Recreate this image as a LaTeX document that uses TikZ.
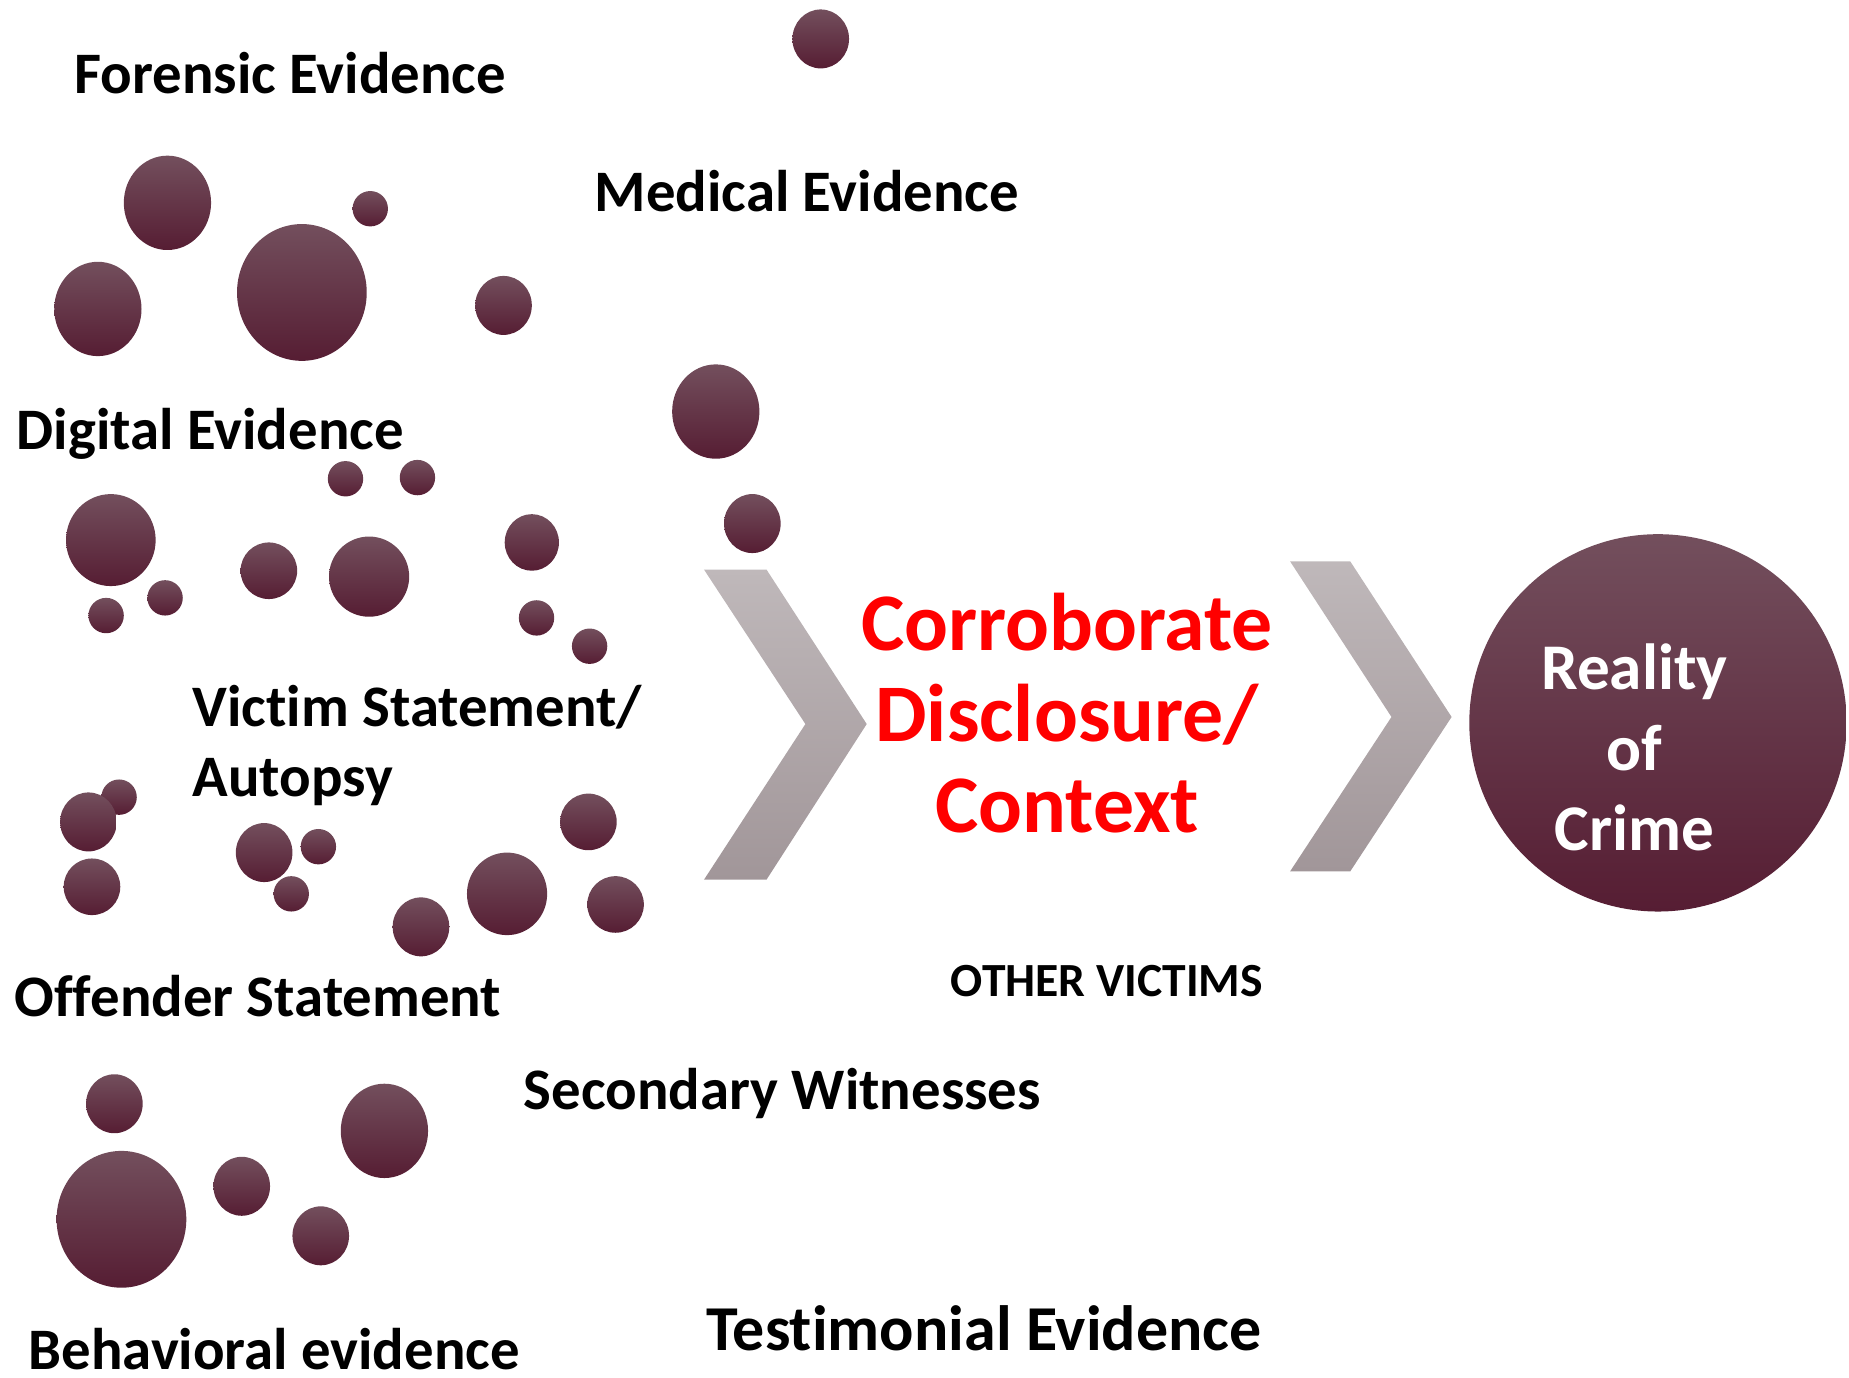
\documentclass[tikz,border=0pt]{standalone}
\usepackage{fontspec}
\setmainfont{Carlito}[Ligatures={NoCommon,NoRequired,NoContextual},Contextuals=NoAlternate]
\definecolor{bubtop}{RGB}{115,79,93}
\definecolor{bubmid}{RGB}{94,35,57}
\definecolor{bubbot}{RGB}{86,29,51}
\definecolor{chevtop}{RGB}{191,184,186}
\definecolor{chevbot}{RGB}{161,150,153}
\begin{document}
\begin{tikzpicture}[x=0.5896pt,y=-0.5896pt,
  bubble/.style={top color=bubtop,middle color=bubmid,bottom color=bubbot},
  chevron/.style={top color=chevtop,bottom color=chevbot},
  lab/.style={anchor=base west,inner sep=0pt,font=\fontsize{29.4}{34.8}\selectfont\bfseries},
  redlab/.style={anchor=base,inner sep=0pt,text=red,font=\fontsize{40.9}{45.4}\selectfont\bfseries},
  whitelab/.style={anchor=base,inner sep=0pt,text=white,font=\fontsize{32.6}{40}\selectfont\bfseries}]
\useasboundingbox (0,0) rectangle (1568,1168);

% scattered evidence bubbles: x, y, horizontal radius, vertical radius
\foreach \cx/\cy/\rx/\ry in {
  696/33/24/25, 142/172/37/40, 314/177/15/15, 83/262/37/40, 256/248/55/58,
  427/259/24/25, 607/349/37/40, 293/406/15/15, 354/405/15/15, 94/458/38/39,
  638/444/24/25, 451/460/23/24, 228/484/24/24, 313/489/34/34, 90/522/15/15,
  140/507/15/15, 455/524/15/15, 500/548/15/15, 101/676/15/15, 75/697/24/25,
  78/752/24/24, 224/723/24/25, 270/718/15/15, 247/758/15/15, 499/697/24/24,
  430/758/34/35, 357/786/24/25, 522/767/24/24, 97/936/24/25, 103/1034/55/58,
  326/959/37/40, 205/1006/24/25, 272/1048/24/25}
  \shade[bubble] (\cx,\cy) ellipse ({\rx} and {\ry});

% evidence labels
\node[lab] (forensic) at (63,79) {Forensic Evidence};
\node[lab] (medical) at (504,179) {Medical Evidence};
\node[lab] (digital) at (14,381) {Digital Evidence};
\node[lab,align=left,anchor=north west] (victim) at (163,581) {Victim Statement/\\Autopsy};
\node[lab] (offender) at (12,862) {Offender Statement};
\node[lab] (secondary) at (444,941) {Secondary Witnesses};
\node[lab,font=\fontsize{32}{36}\selectfont\bfseries] (testimonial) at (599,1145) {Test\kern0pt imonial Evidence};
\node[lab] (behavioral) at (24,1161) {Behavioral evidence};
\node[lab,font=\fontsize{23.8}{28}\selectfont\bfseries] (others) at (806,845) {OTHER VICTIMS};

% chevrons
\shade[chevron] (597,483) -- (650,483) -- (735,614) -- (650,746) -- (597,746) -- (683,614) -- cycle;
\shade[chevron] (1094,476) -- (1145,476) -- (1231,608) -- (1145,739) -- (1094,739) -- (1180,608) -- cycle;

% middle stage
\node[redlab] (corr1) at (905,552) {Corroborate};
\node[redlab] (corr2) at (905,629) {Disclosure/};
\node[redlab] (corr3) at (905,706) {Context};

% outcome
\node[circle,minimum size=320*0.5896pt,inner sep=0pt,bubble] (crime) at (1406,613) {};
\node[whitelab] (crime1) at (1386,585) {Reality};
\node[whitelab] (crime2) at (1386,653) {of};
\node[whitelab] (crime3) at (1386,721) {Crime};
\end{tikzpicture}
\end{document}
